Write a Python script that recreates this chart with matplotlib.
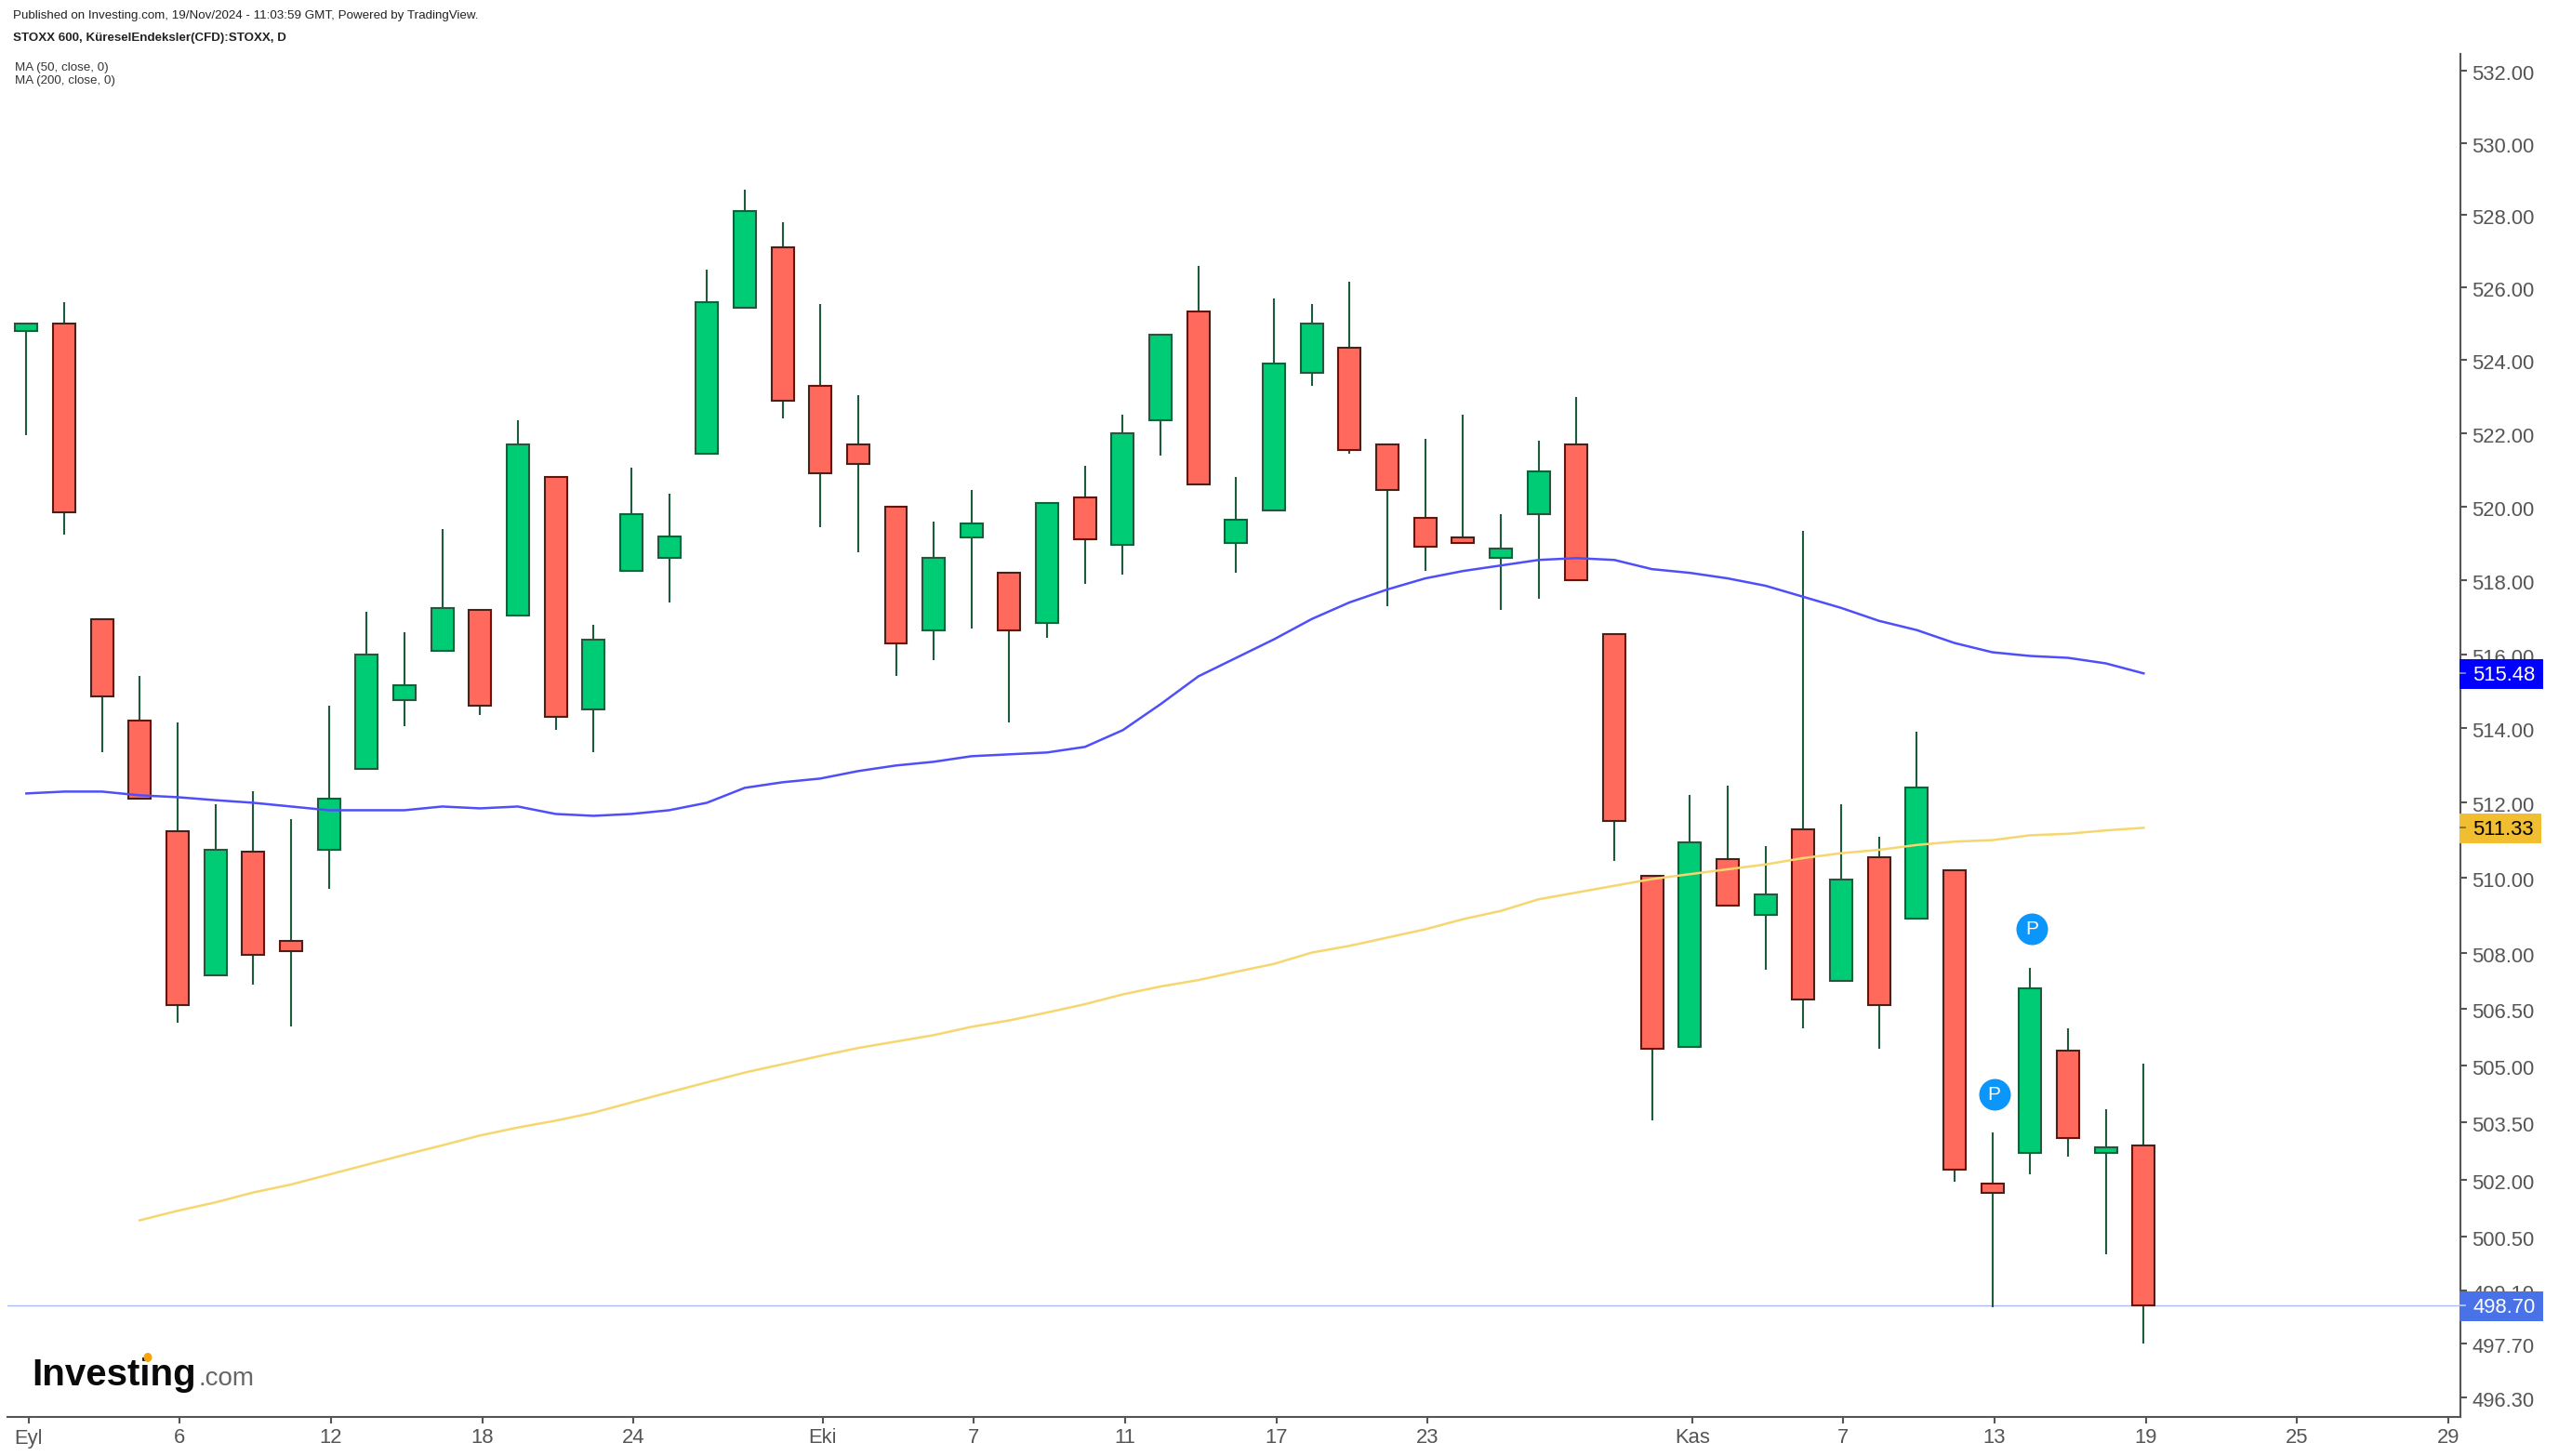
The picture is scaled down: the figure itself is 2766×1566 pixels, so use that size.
import matplotlib
matplotlib.use('Agg')
import matplotlib.pyplot as plt
from matplotlib.lines import Line2D
from matplotlib.patches import Rectangle, Ellipse
from matplotlib.ticker import FixedLocator, FixedFormatter, NullLocator
from matplotlib.transforms import ScaledTranslation

plt.rcParams['font.family'] = ['Liberation Sans', 'DejaVu Sans']

W = 2766
H = 1566

# daily candles
opens = [524.8, 525.0, 516.95, 514.2, 511.25, 507.4, 510.7, 508.3, 510.75, 512.9,
         514.75, 516.1, 517.2, 517.05, 520.8, 514.5, 518.25, 518.6, 521.45, 525.45,
         527.1, 523.3, 521.7, 520.0, 516.65, 519.15, 518.2, 516.85, 520.25, 518.95,
         522.35, 525.35, 519.0, 519.9, 523.65, 524.35, 521.7, 519.7, 519.15, 518.6,
         519.8, 521.7, 516.55, 510.05, 505.5, 510.5, 509.0, 511.3, 507.25, 510.55,
         508.9, 510.2, 501.9, 502.7, 505.4, 502.7, 502.9]
closes = [525.0, 519.85, 514.85, 512.1, 506.6, 510.75, 507.95, 508.05, 512.1, 516.0,
          515.15, 517.25, 514.6, 521.7, 514.3, 516.4, 519.8, 519.2, 525.6, 528.1,
          522.9, 520.9, 521.15, 516.3, 518.6, 519.55, 516.65, 520.1, 519.1, 522.0,
          524.7, 520.6, 519.65, 523.9, 525.0, 521.55, 520.45, 518.9, 519.0, 518.85,
          520.95, 518.0, 511.5, 505.45, 510.95, 509.25, 509.55, 506.75, 509.95, 506.6,
          512.4, 502.25, 501.65, 507.05, 503.1, 502.85, 498.7]
highs = [525.0, 525.6, 516.95, 515.4, 514.15, 511.95, 512.3, 511.55, 514.6, 517.15,
         516.6, 519.4, 517.2, 522.35, 520.8, 516.8, 521.05, 520.35, 526.5, 528.7,
         527.8, 525.55, 523.05, 520.0, 519.6, 520.45, 518.2, 520.1, 521.1, 522.5,
         524.7, 526.6, 520.8, 525.7, 525.55, 526.15, 521.7, 521.85, 522.5, 519.8,
         521.8, 523.0, 516.55, 510.05, 512.2, 512.45, 510.85, 519.35, 511.95, 511.1,
         513.9, 510.2, 503.25, 507.6, 506.0, 503.85, 505.05]
lows = [521.95, 519.25, 513.35, 512.1, 506.15, 507.4, 507.15, 506.05, 509.7, 512.9,
        514.05, 516.1, 514.35, 517.05, 513.95, 513.35, 518.25, 517.4, 521.45, 525.45,
        522.4, 519.45, 518.75, 515.4, 515.85, 516.7, 514.15, 516.45, 517.9, 518.15,
        521.4, 520.6, 518.2, 519.9, 523.3, 521.45, 517.3, 518.25, 519.0, 517.2,
        517.5, 518.0, 510.45, 503.55, 505.5, 509.25, 507.55, 506.0, 507.25, 505.45,
        508.9, 501.95, 498.65, 502.15, 502.6, 500.05, 497.7]

ma50 = [512.25, 512.3, 512.3, 512.2, 512.15, 512.07, 512.0, 511.9, 511.8, 511.8,
        511.8, 511.9, 511.85, 511.9, 511.7, 511.65, 511.7, 511.8, 512.0, 512.4,
        512.55, 512.65, 512.85, 513.0, 513.1, 513.25, 513.3, 513.35, 513.5, 513.95,
        514.65, 515.4, 515.9, 516.4, 516.95, 517.4, 517.75, 518.05, 518.25, 518.4,
        518.55, 518.6, 518.55, 518.3, 518.2, 518.05, 517.85, 517.55, 517.25, 516.9,
        516.65, 516.3, 516.05, 515.95, 515.9, 515.75, 515.48]
ma200 = [500.93, 501.18, 501.4, 501.66, 501.87, 502.13, 502.39, 502.65, 502.9, 503.16,
         503.37, 503.55, 503.76, 504.03, 504.3, 504.56, 504.82, 505.04, 505.26, 505.47,
         505.64, 505.81, 506.03, 506.2, 506.41, 506.63, 506.89, 507.1, 507.27, 507.49,
         507.7, 508.0, 508.18, 508.4, 508.62, 508.89, 509.11, 509.42, 509.6, 509.78,
         509.96, 510.09, 510.22, 510.35, 510.52, 510.65, 510.74, 510.87, 510.96, 511.0,
         511.13, 511.17, 511.26, 511.33]
ma200_start = 3

y_ticks = [532, 530, 528, 526, 524, 522, 520, 518, 516, 514, 512, 510, 508,
           506.5, 505, 503.5, 502, 500.5, 499.1, 497.7, 496.3]
x_ticks = [0, 4, 8, 12, 16, 21, 25, 29, 33, 37, 44, 48, 52, 56, 60, 64]
x_labels = ['Eyl', '6', '12', '18', '24', 'Eki', '7', '11', '17', '23', 'Kas', '7', '13', '19', '25', '29']

p_x = [52.05, 53.05]
p_y = [504.24, 508.63]
last_price = 498.70
ma50_last = 515.48
ma200_last = 511.33

fig = plt.figure(figsize=(W / 100, H / 100), dpi=100, facecolor='white')
ax = fig.add_axes([8 / W, 1 - 1524 / H, (2646 - 8) / W, (1524 - 58) / H])

red = '#FF6A5C'
green = '#00CC76'
red_edge = '#5A1A14'
green_edge = '#1C5C3C'

# candles
xs = list(range(len(opens)))
ax.vlines(xs, lows, highs, color=green_edge, linewidth=1.5, zorder=2)
for i in xs:
    up = closes[i] >= opens[i]
    bottom = min(opens[i], closes[i])
    ax.bar(i, abs(closes[i] - opens[i]), bottom=bottom, width=0.59,
           color=green if up else red, edgecolor=green_edge if up else red_edge,
           linewidth=1.5, zorder=3)

# moving averages
ax.plot(xs, ma50, color='#4F4FFA', linewidth=1.8, zorder=4)
ax.plot(range(ma200_start, ma200_start + len(ma200)), ma200, color='#F6D66F', linewidth=1.8, zorder=4)

ax.axhline(last_price, color='#A9BCF5', linewidth=1.0, zorder=1)

ax.scatter(p_x, p_y, s=600, color='#0A96FA', zorder=5, linewidths=0)
for px, py in zip(p_x, p_y):
    ax.text(px, py, 'P', color='white', fontsize=15, ha='center', va='center', zorder=6)

ax.set_yscale('log')
ax.set_ylim(495.8, 532.47)
ax.set_xlim(-0.5, 64.38)
ax.yaxis.tick_right()
ax.yaxis.set_major_locator(FixedLocator(y_ticks))
ax.yaxis.set_major_formatter(FixedFormatter(['%.2f' % v for v in y_ticks]))
ax.yaxis.set_minor_locator(NullLocator())
ax.set_xticks([t + 0.06 for t in x_ticks])
ax.set_xticklabels(x_labels)
ax.tick_params(axis='both', length=5, width=1.5, color='#555555', labelcolor='#555555',
               labelsize=15.8, pad=4)
ax.tick_params(axis='x', pad=4)
for s in ['top', 'left']:
    ax.spines[s].set_visible(False)
for s in ['right', 'bottom']:
    ax.spines[s].set_color('#555555')
    ax.spines[s].set_linewidth(1.5)

# labels sit a little under their ticks
shift = ScaledTranslation(0, -2 / 100, fig.dpi_scale_trans)
for lab in ax.get_yticklabels():
    lab.set_transform(lab.get_transform() + shift)

# price labels on the axis
for val, bg, fg, mark, boxw in [(ma50_last, '#0000FF', 'white', '#8C8CFF', 90),
                                (ma200_last, '#F0BE30', 'black', '#7A6428', 88),
                                (last_price, '#4A72E8', 'white', '#C4D2F8', 90)]:
    ypx = ax.transData.transform((0, val))[1]
    fig.add_artist(Rectangle((2645 / W, (ypx - 17) / H), boxw / W, 32 / H, transform=fig.transFigure,
                             fc=bg, ec='none', zorder=5))
    fig.add_artist(Line2D([2646 / W, 2651 / W], [ypx / H, ypx / H], transform=fig.transFigure,
                          color=mark, linewidth=1.2, zorder=6))
    fig.text(2659 / W, (ypx - 2) / H, '%.2f' % val, color=fg, fontsize=15.8,
             va='center', ha='left', zorder=6)

# header
fig.text(14 / W, 1 - 17 / H, 'Published on Investing.com, 19/Nov/2024 - 11:03:59 GMT, Powered by TradingView.',
         fontsize=9.6, color='#222222', va='center')
fig.text(14 / W, 1 - 41 / H, 'STOXX 600, KüreselEndeksler(CFD):STOXX, D',
         fontsize=9.6, color='#222222', va='center', fontweight='bold')
fig.text(16 / W, 1 - 73 / H, 'MA (50, close, 0)', fontsize=9.6, color='#333333', va='center')
fig.text(16 / W, 1 - 87 / H, 'MA (200, close, 0)', fontsize=9.6, color='#333333', va='center')

# logo
fig.text(34 / W, 1 - 1490 / H, 'Investing', fontsize=29, fontweight='bold', color='#0A0A0A', va='baseline')
fig.text(214 / W, 1 - 1490 / H, '.com', fontsize=20, color='#666666', va='baseline')
fig.add_artist(Ellipse((159 / W, 1 - 1460 / H), 9 / W, 10 / H, transform=fig.transFigure,
                       fc='#F7A30C', ec='none', zorder=7))

fig.savefig('out.png', dpi=100)
